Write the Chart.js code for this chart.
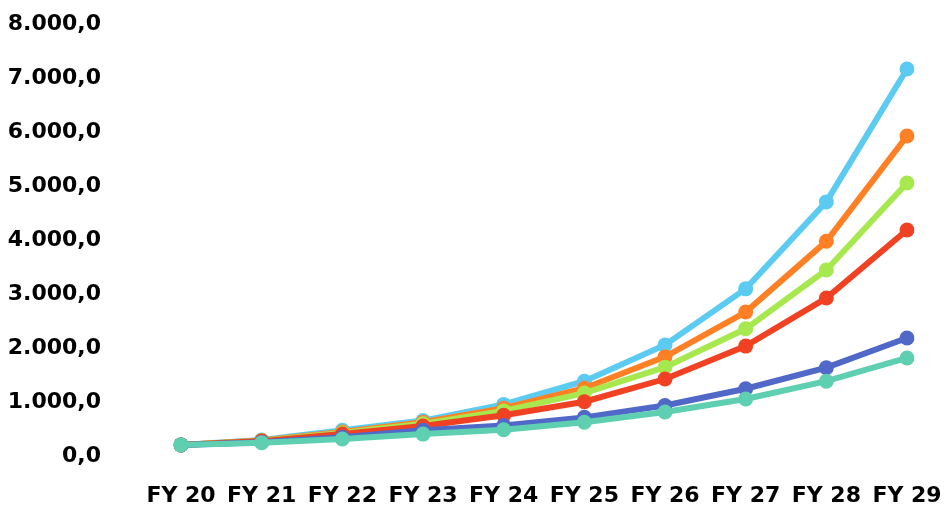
<!DOCTYPE html>
<html>
<head>
<meta charset="utf-8">
<script src="https://cdn.jsdelivr.net/npm/chart.js@4.4.0/dist/chart.umd.min.js"></script>
<style>
  html, body { margin: 0; padding: 0; background: #fff; }
  #wrap { width: 948px; height: 511px; }
</style>
</head>
<body>
<div id="wrap"><canvas id="c" width="948" height="511"></canvas></div>
<script>
/* Fiscal-year growth lines, six scenarios */
const FONT = "'DejaVu Sans', sans-serif";

const years = ['FY 20', 'FY 21', 'FY 22', 'FY 23', 'FY 24', 'FY 25', 'FY 26', 'FY 27', 'FY 28', 'FY 29'];

const cyanSeries   = [150, 240, 420, 600, 900, 1330, 2000, 3040, 4650, 7110];
const orangeSeries = [150, 230, 390, 570, 830, 1200, 1780, 2610, 3920, 5870];
const greenSeries  = [150, 225, 370, 540, 780, 1110, 1590, 2300, 3390, 5000];
const redSeries    = [150, 220, 350, 500, 700, 950, 1370, 1980, 2870, 4130];
const blueSeries   = [150, 200, 290, 420, 510, 660, 880, 1190, 1580, 2130];
const tealSeries   = [150, 190, 260, 350, 430, 570, 760, 1000, 1330, 1760];

const yTicks = [0, 1000, 2000, 3000, 4000, 5000, 6000, 7000, 8000];

function fmtDe(v) {
  const s = Math.round(v).toString().replace(/\B(?=(\d{3})+(?!\d))/g, '.');
  return s + ',0';
}

function line(data, color) {
  return {
    data: data,
    borderColor: color,
    backgroundColor: color,
    borderWidth: 6,
    pointRadius: 7.5,
    pointHoverRadius: 7.5,
    pointBorderWidth: 0,
    tension: 0,
    fill: false
  };
}

// first dataset is drawn on top
const datasets = [
  line(tealSeries, '#5ecfb1'),
  line(blueSeries, '#5068c8'),
  line(redSeries, '#f04223'),
  line(greenSeries, '#a8e84f'),
  line(orangeSeries, '#ff8024'),
  line(cyanSeries, '#5ccbf2')
];

new Chart(document.getElementById('c'), {
  type: 'line',
  data: { labels: years, datasets: datasets },
  options: {
    responsive: false,
    animation: false,
    layout: { padding: { top: 21, right: 41, bottom: 0, left: 0 } },
    plugins: { legend: { display: false }, tooltip: { enabled: false } },
    scales: {
      x: {
        grid: { display: false },
        border: { display: false },
        ticks: { color: '#000', font: { family: FONT, size: 22, weight: 'bold' }, padding: 22, maxRotation: 0, autoSkip: false },
        afterFit(scale) {
          scale.height = 58;
          scale.paddingLeft = 0;
          scale.paddingRight = 0;
        }
      },
      y: {
        min: 0,
        max: 8000,
        grid: { display: false },
        border: { display: false },
        afterBuildTicks(scale) { scale.ticks = yTicks.map(v => ({ value: v })); },
        ticks: {
          color: '#000',
          // empty first line with a small line height nudges the label down a few px
          font: { family: FONT, size: 22, weight: 'bold', lineHeight: '7px' },
          padding: 72,
          callback: v => ['', fmtDe(v)]
        },
        afterFit(scale) {
          scale.width = 181;
          scale.paddingTop = 0;
          scale.paddingBottom = 0;
        }
      }
    }
  }
});
</script>
</body>
</html>
